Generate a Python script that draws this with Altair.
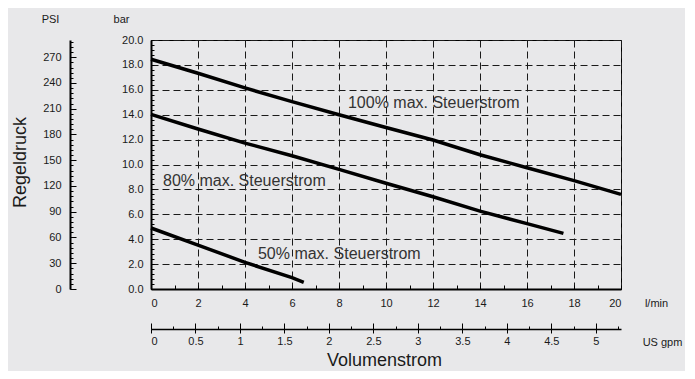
import altair as alt
import pandas as pd

# ---- data ----
flow_100 = [0, 2, 4, 6, 8, 10, 12, 14, 16, 18, 20]
bar_100 = [18.45, 17.33, 16.15, 15.05, 14.0, 12.97, 11.97, 10.78, 9.74, 8.7, 7.6]
flow_80 = [0, 2, 4, 6, 8, 10, 12, 14, 16, 17.55]
bar_80 = [14.03, 12.85, 11.72, 10.7, 9.61, 8.49, 7.41, 6.25, 5.25, 4.47]
flow_50 = [0, 2, 4, 6, 6.5]
bar_50 = [4.9, 3.53, 2.14, 0.91, 0.54]

label_text = ["100% max. Steuerstrom", "80% max. Steuerstrom", "50% max. Steuerstrom"]
label_x = [8.38, 0.51, 4.55]
label_y = [14.94, 8.67, 2.81]

bar_ticks = [0, 2, 4, 6, 8, 10, 12, 14, 16, 18, 20]
bar_minor = [round(i * 0.4, 2) for i in range(51)]
psi_major = [0, 30, 60, 90, 120, 150, 180, 210, 240, 270]
psi_minor = [i * 6 for i in range(49)]
flow_ticks = [0, 2, 4, 6, 8, 10, 12, 14, 16, 18, 20]
flow_minor = list(range(21))
gpm_major = [0, 0.5, 1, 1.5, 2, 2.5, 3, 3.5, 4, 4.5, 5]
gpm_minor = [i * 0.25 for i in range(22)]

PSI_PER_BAR = 14.5038
LPM_PER_GPM = 3.78541

FONT = "Liberation Sans"
INK = "#1a1a1a"

rows = []
for name, fx, fy in (("100%", flow_100, bar_100), ("80%", flow_80, bar_80), ("50%", flow_50, bar_50)):
    for a, b in zip(fx, fy):
        rows.append({"series": name, "flow": a, "bar": b})
lines_df = pd.DataFrame(rows)
labels_df = pd.DataFrame({"text": label_text, "x": label_x, "y": label_y})

W, H = 470, 249
xs = alt.Scale(domain=[0, 20], nice=False, zero=False)
ys = alt.Scale(domain=[0, 20], nice=False, zero=False)

common = dict(labelFont=FONT, labelColor=INK, titleFont=FONT, titleColor=INK,
              titleFontWeight="normal", tickColor="black", domainColor="black")

main = alt.Chart(lines_df).mark_line(color="black", strokeWidth=3.5).encode(
    x=alt.X("flow:Q", scale=xs, axis=alt.Axis(
        orient="bottom", values=flow_ticks, format="d", tickSize=0, labelPadding=8,
        labelFontSize=11, domainWidth=2, grid=True, gridDash=[7, 4], gridColor="#1a1a1a",
        gridWidth=1, title="l/min", titleX=505, titleY=14, titleAlign="center",
        titleBaseline="middle", titleFontSize=11, **common)),
    y=alt.Y("bar:Q", scale=ys, axis=alt.Axis(
        orient="left", values=bar_ticks, format=".1f", tickSize=0, labelPadding=8,
        labelFontSize=11, domainWidth=2, grid=True, gridDash=[7, 4], gridColor="#1a1a1a",
        gridWidth=1, title="bar", titleAngle=0, titleX=-30, titleY=-21,
        titleAlign="center", titleBaseline="middle", titleFontSize=11, **common)),
    detail="series:N",
)

texts = alt.Chart(labels_df).mark_text(
    align="left", baseline="middle", font=FONT, fontSize=16, color="#333"
).encode(
    x=alt.X("x:Q", scale=xs, axis=None),
    y=alt.Y("y:Q", scale=ys, axis=None),
    text="text:N",
)


def y_layer(vals, axis):
    return alt.Chart(pd.DataFrame({"v": vals})).mark_point(opacity=0).encode(
        y=alt.Y("v:Q", scale=ys, axis=axis))


def x_layer(vals, axis):
    return alt.Chart(pd.DataFrame({"v": vals})).mark_point(opacity=0).encode(
        x=alt.X("v:Q", scale=xs, axis=axis))


psi_major_bar = [p / PSI_PER_BAR for p in psi_major]
psi_minor_bar = [p / PSI_PER_BAR for p in psi_minor if p / PSI_PER_BAR <= 20]
gpm_major_lpm = [g * LPM_PER_GPM for g in gpm_major]
gpm_minor_lpm = [g * LPM_PER_GPM for g in gpm_minor]

y_inner = y_layer(bar_minor, alt.Axis(
    orient="right", offset=-W, values=bar_minor, tickSize=3, labels=False,
    domain=False, grid=False, title=None, **common))
psi_labels = y_layer(psi_major_bar, alt.Axis(
    orient="left", offset=81, values=psi_major_bar,
    labelExpr=f"format(datum.value * {PSI_PER_BAR}, '.0f')",
    tickSize=0, labelPadding=9, labelFontSize=11, domainWidth=2, grid=False,
    title="Regeldruck", titleAngle=-90, titleX=-50, titleY=122,
    titleAlign="center", titleBaseline="middle", titleFontSize=18, **common))
psi_major_ticks = y_layer(psi_major_bar, alt.Axis(
    orient="right", offset=-(W + 81), values=psi_major_bar, tickSize=6,
    labels=False, domain=False, grid=False, title="PSI", titleAngle=0,
    titleX=-20, titleY=-21, titleAlign="center", titleBaseline="middle",
    titleFontSize=11, **common))
psi_minor_ticks = y_layer(psi_minor_bar, alt.Axis(
    orient="right", offset=-(W + 81), values=psi_minor_bar, tickSize=3,
    labels=False, domain=False, grid=False, title=None, **common))

x_inner = x_layer(flow_minor, alt.Axis(
    orient="top", offset=-H, values=flow_minor, tickSize=4, labels=False,
    domain=False, grid=False, title=None, **common))
gpm_labels = x_layer(gpm_major_lpm, alt.Axis(
    orient="bottom", offset=40, values=gpm_major_lpm,
    labelExpr=f"format(round(datum.value / {LPM_PER_GPM} * 10) / 10, '~g')",
    tickSize=4, labelPadding=2, labelFontSize=11, domainWidth=1.5, grid=False,
    title="Volumenstrom", titleX=233, titleY=36, titleAlign="center",
    titleBaseline="alphabetic", titleFontSize=18, **common))
gpm_major_ticks = x_layer(gpm_major_lpm, alt.Axis(
    orient="top", offset=-(H + 40), values=gpm_major_lpm, tickSize=6,
    labels=False, domain=False, grid=False, title="US gpm", titleX=511,
    titleY=13, titleAlign="center", titleBaseline="middle", titleFontSize=11,
    **common))
gpm_minor_ticks = x_layer(gpm_minor_lpm, alt.Axis(
    orient="top", offset=-(H + 40), values=gpm_minor_lpm, tickSize=3,
    labels=False, domain=False, grid=False, title=None, **common))

chart = alt.layer(
    main, texts, y_inner, psi_labels, psi_major_ticks, psi_minor_ticks,
    x_inner, gpm_labels, gpm_major_ticks, gpm_minor_ticks,
).resolve_axis(x="independent", y="independent").properties(
    width=W, height=H,
    autosize=alt.AutoSizeParams(type="none"),
    padding={"left": 143, "top": 32, "right": 64, "bottom": 82},
    background="#e8e8ea",
).configure_view(stroke="black", strokeWidth=1)

chart.save("out.html", embed_options={"renderer": "svg", "actions": False})
